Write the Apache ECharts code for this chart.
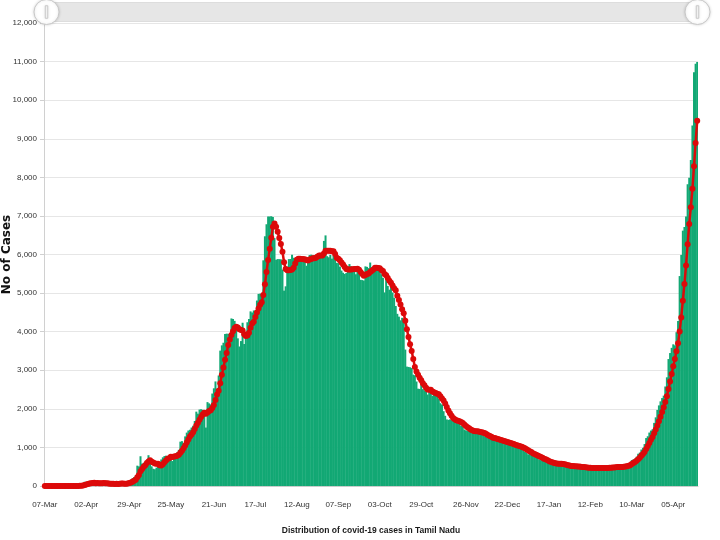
<!DOCTYPE html>
<html>
<head>
<meta charset="utf-8">
<script src="https://cdn.jsdelivr.net/npm/echarts@6/dist/echarts.min.js"></script>
<style>
html,body{margin:0;padding:0;background:#fff;}
#chart{width:720px;height:540px;}
</style>
</head>
<body>
<div id="chart"></div>
<script>
// ---- DATA ----
const startDate = '2020-03-07';
const tickDates = ['2020-03-07','2020-04-02','2020-04-29','2020-05-25','2020-06-21','2020-07-17','2020-08-12','2020-09-07','2020-10-03','2020-10-29','2020-11-26','2020-12-22','2021-01-17','2021-02-12','2021-03-10','2021-04-05'];
const monthNames = ['Jan','Feb','Mar','Apr','May','Jun','Jul','Aug','Sep','Oct','Nov','Dec'];

// daily new cases
const cases2020Mar = [1,0,0,0,0,0,0,0,0,0,0,1,0,1,3,0,3,6,3,6,3,2,8,17,57];
const cases2020Apr = [110,75,102,74,86,50,69,48,96,77,58,106,98,31,38,25,56,49,105,43,76,33,54,72,66,64,52,121,104,161];
const cases2020May = [203,231,266,527,508,771,580,600,526,669,798,716,509,447,434,477,639,536,688,743,776,786,759,765,805,646,817,827,874,938,1149];
const cases2020Jun = [1162,1091,1286,1384,1438,1458,1515,1562,1685,1927,1875,1982,1989,1974,1843,1515,2174,2141,2115,2396,2532,2710,2516,2865,3509,3645,3713,3940,3949,3943];
const cases2020Jul = [3882,4343,4329,4280,4150,3827,3616,3756,4231,3680,3965,4244,4328,4526,4496,4549,4538,4807,4979,4985,4965,5849,6472,6785,6988,6986,6993,6972,6426,5864,5881];
const cases2020Aug = [5879,5875,5609,5063,5175,5684,5880,5883,5994,5914,5834,5871,5835,5890,5860,5950,5890,5709,5795,5986,5995,5980,5975,5967,5951,5958,5981,5996,6352,6495,5956];
const cases2020Sep = [5928,5990,5892,5976,5870,5783,5776,5684,5584,5528,5495,5519,5693,5752,5697,5652,5560,5488,5569,5516,5344,5337,5325,5692,5679,5647,5791,5589,5546,5659];
const cases2020Oct = [5688,5622,5595,5489,5395,5017,5447,5185,5088,5242,5015,4879,4666,4462,4389,4295,4359,4295,3536,3094,3086,3077,3057,2886,2869,2708,2522,2516,2652,2511,2481];
const cases2020Nov = [2455,2370,2487,2516,2341,2370,2335,2334,2257,2146,2112,1939,1819,1725,1714,1725,1707,1714,1707,1655,1624,1627,1557,1534,1464,1442,1430,1430,1410,1404];
const cases2020Dec = [1398,1428,1416,1391,1366,1348,1312,1285,1263,1248,1234,1236,1195,1232,1195,1181,1164,1150,1133,1130,1110,1121,1081,1071,1067,1029,1019,1005,1005,994,996];
const cases2021Jan = [926,887,862,820,832,821,819,762,757,739,685,671,689,661,644,610,589,551,574,569,586,596,586,569,540,540,509,512,518,519,512];
const cases2021Feb = [502,508,502,494,491,486,478,474,471,467,463,461,471,468,465,467,463,466,477,477,466,462,473,480,487,499,501,506];
const cases2021Mar = [490,495,489,482,515,562,567,570,604,671,689,706,759,836,867,945,989,1087,1243,1289,1385,1437,1471,1636,1779,1971,2089,2194,2279,2342,2579];
const cases2021Apr = [2817,3290,3446,3581,3672,3645,3986,4276,5441,5989,6618,6711,6984,7819,7987,8449,9344,10723,10941,10986];

// 7-day average line
const avg2020Mar = [0,0,0,0,0,0,0,0,0,0,0,0,0,0,1,1,1,2,2,3,3,3,4,6,14];
const avg2020Apr = [29,39,53,63,74,79,81,72,75,71,69,72,79,73,72,62,59,58,57,50,56,55,59,62,64,58,60,66,76,91];
const avg2020May = [110,134,163,230,286,381,441,498,540,597,636,666,628,609,586,579,574,537,533,566,613,664,704,722,760,754,765,772,785,810,865];
const avg2020Jun = [916,980,1047,1126,1207,1281,1333,1391,1475,1567,1637,1715,1791,1856,1896,1872,1907,1945,1964,2023,2102,2226,2369,2468,2663,2882,3070,3271,3448,3652];
const avg2020Jul = [3797,3916,4014,4095,4125,4108,4061,4043,4027,3934,3889,3903,3974,4104,4210,4255,4378,4498,4603,4697,4760,4953,5228,5549,5860,6147,6434,6721,6803,6716,6587];
const avg2020Aug = [6429,6270,6072,5800,5621,5595,5595,5596,5613,5656,5766,5866,5887,5889,5885,5879,5876,5858,5847,5869,5884,5901,5904,5915,5950,5973,5972,5973,6026,6100,6098];
const avg2020Sep = [6095,6100,6087,6084,6015,5914,5888,5853,5795,5743,5674,5624,5611,5608,5610,5619,5624,5623,5630,5605,5547,5495,5448,5467,5495,5506,5545,5580,5610,5658];
const avg2020Oct = [5657,5649,5641,5598,5571,5495,5465,5393,5317,5266,5198,5125,5075,4934,4820,4707,4581,4478,4286,4061,3865,3677,3501,3290,3086,2968,2886,2805,2744,2666,2608];
const avg2020Nov = [2549,2501,2496,2496,2452,2431,2411,2393,2377,2328,2271,2213,2135,2047,1959,1883,1820,1763,1730,1707,1692,1680,1656,1631,1595,1558,1525,1498,1467,1445];
const avg2020Dec = [1425,1420,1417,1411,1402,1393,1380,1364,1340,1316,1294,1275,1253,1242,1229,1217,1205,1193,1179,1169,1152,1141,1127,1114,1102,1087,1071,1056,1040,1027,1016];
const avg2021Jan = [996,976,954,927,902,878,852,829,810,793,774,751,732,709,692,671,650,631,617,600,589,582,579,576,574,569,561,550,539,530,521];
const avg2021Feb = [516,511,510,508,504,499,494,490,485,480,476,471,469,468,467,466,465,466,468,469,469,468,469,472,475,478,481,487];
const avg2021Mar = [491,494,495,495,497,506,514,526,541,567,597,624,652,691,733,782,827,884,961,1037,1115,1196,1272,1364,1463,1567,1681,1797,1917,2041,2176];
const avg2021Apr = [2324,2513,2707,2905,3104,3290,3491,3699,4007,4370,4804,5238,5715,6263,6793,7222,7702,8288,8892,9464];

const yMax = 12000, yStep = 1000;

// ---- BUILD ----
const dailyCases = [].concat(cases2020Mar,cases2020Apr,cases2020May,cases2020Jun,cases2020Jul,cases2020Aug,cases2020Sep,cases2020Oct,cases2020Nov,cases2020Dec,cases2021Jan,cases2021Feb,cases2021Mar,cases2021Apr);
const weeklyAvg = [].concat(avg2020Mar,avg2020Apr,avg2020May,avg2020Jun,avg2020Jul,avg2020Aug,avg2020Sep,avg2020Oct,avg2020Nov,avg2020Dec,avg2021Jan,avg2021Feb,avg2021Mar,avg2021Apr);

function pad(n){return (n<10?'0':'')+n;}
const dates = [];
(function(){
  const p = startDate.split('-').map(Number);
  const t0 = Date.UTC(p[0], p[1]-1, p[2]);
  for (let k = 0; k < dailyCases.length; k++) {
    const d = new Date(t0 + k*86400000);
    dates.push(d.getUTCFullYear()+'-'+pad(d.getUTCMonth()+1)+'-'+pad(d.getUTCDate()));
  }
})();
function fmtDate(s){const p=s.split('-');return p[2]+'-'+monthNames[+p[1]-1];}

const FONT = "'Liberation Sans',Arial,sans-serif";

const chart = echarts.init(document.getElementById('chart'), null, {renderer:'canvas'});
chart.setOption({
  animation: false,
  backgroundColor: '#ffffff',
  grid: {left: 44, right: 22, top: 23, bottom: 54, containLabel: false, outerBoundsMode: 'none'},
  dataZoom: [{
    type: 'slider',
    xAxisIndex: 0,
    start: 0, end: 100,
    top: 2, height: 20, left: 44, right: 23,
    showDetail: false,
    showDataShadow: false,
    brushSelect: false,
    moveHandleSize: 0,
    backgroundColor: '#f2f2f2',
    fillerColor: '#e6e6e6',
    borderColor: '#dddddd',
    handleIcon: 'path://M0,-10A10,10,0,1,1,0,10A10,10,0,1,1,0,-10Z M-1,-5L1,-5L1,5L-1,5Z',
    handleSize: '125%',
    handleStyle: {color: '#ffffff', borderColor: '#c8c8c8', borderWidth: 1, shadowBlur: 3, shadowColor: 'rgba(0,0,0,0.15)'},
    emphasis: {handleStyle: {color: '#ffffff', borderColor: '#c8c8c8'}}
  }],
  xAxis: {
    type: 'category',
    data: dates,
    boundaryGap: true,
    name: 'Distribution of covid-19 cases in Tamil Nadu',
    nameLocation: 'middle',
    nameGap: 40,
    nameMoveOverlap: false,
    nameTextStyle: {fontFamily: FONT, fontSize: 8.5, fontWeight: 'bold', color: '#1a1a1a'},
    axisLine: {show: true, lineStyle: {color: '#cccccc'}},
    axisTick: {show: false},
    axisLabel: {
      interval: function(idx, val){ return tickDates.indexOf(val) >= 0; },
      formatter: function(val){ return fmtDate(val); },
      fontFamily: FONT, fontSize: 8, color: '#333333', margin: 15
    },
    splitLine: {show: false}
  },
  yAxis: {
    type: 'value',
    min: 0, max: yMax, interval: yStep,
    name: 'No of Cases',
    nameLocation: 'middle',
    nameGap: 31,
    nameMoveOverlap: false,
    nameTextStyle: {fontFamily: "'DejaVu Sans',sans-serif", fontSize: 12, fontWeight: 'bold', color: '#111111'},
    axisLine: {show: true, lineStyle: {color: '#d0d0d0'}},
    axisTick: {show: true, length: 4, lineStyle: {color: '#d0d0d0'}},
    axisLabel: {
      formatter: function(v){ return v.toLocaleString('en-US'); },
      fontFamily: FONT, fontSize: 8, color: '#333333', margin: 7
    },
    splitLine: {show: true, lineStyle: {color: '#e6e6e6'}}
  },
  series: [{
    name: 'Daily cases',
    type: 'bar',
    data: dailyCases,
    barWidth: 2,
    itemStyle: {color: '#12a874'},
    z: 2
  }, {
    name: '7-day average',
    type: 'line',
    data: weeklyAvg,
    symbol: 'circle',
    symbolSize: 6,
    showSymbol: true,
    showAllSymbol: true,
    lineStyle: {color: '#dc0a0a', width: 2.5},
    itemStyle: {color: '#dc0a0a'},
    z: 3
  }]
});
</script>
</body>
</html>
